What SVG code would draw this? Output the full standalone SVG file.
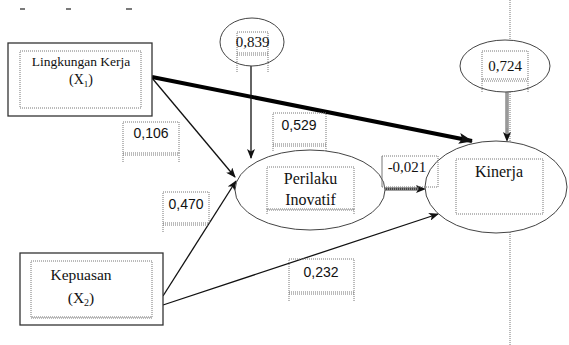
<svg xmlns="http://www.w3.org/2000/svg" width="569" height="345" viewBox="0 0 569 345">
<style>
.box{fill:#fff;stroke:#333;stroke-width:1.3}
.dot{fill:none;stroke:#777;stroke-width:1;stroke-dasharray:1 1}
.ell{fill:#fff;stroke:#444;stroke-width:1}
.ser{fill:#111;text-anchor:middle}
.san{fill:#111;text-anchor:middle;font-size:14px}
.ln{stroke:#111;stroke-width:1.3;fill:none}
</style>
<defs>
<marker id="ah" markerWidth="10" markerHeight="8" refX="9" refY="4" orient="auto" markerUnits="userSpaceOnUse">
<path d="M0,0 L10,4 L0,8 L2.5,4 Z" fill="#111"/>
</marker>
<marker id="ahb" markerWidth="14" markerHeight="11" refX="13" refY="5.5" orient="auto" markerUnits="userSpaceOnUse">
<path d="M0,0 L14,5.5 L0,11 L3,5.5 Z" fill="#111"/>
</marker>
</defs>
<rect width="569" height="345" fill="#fff"/>
<g id="marks" stroke="#222" stroke-width="1.2">
<line x1="20" y1="9" x2="25" y2="9"/>
<line x1="66" y1="9" x2="71" y2="9"/>
<line x1="126" y1="9" x2="132" y2="9"/>
</g>
<line x1="510" y1="0" x2="510" y2="345" class="dot" stroke="#999"/>
<g id="connectors">
<line class="ln" x1="152" y1="78" x2="235" y2="177" marker-end="url(#ah)"/>
<line class="ln" x1="163" y1="296" x2="236" y2="181" marker-end="url(#ah)"/>
<line class="ln" x1="163" y1="305" x2="438" y2="214" marker-end="url(#ah)"/>
<line x1="152" y1="77" x2="472" y2="141" stroke="#000" stroke-width="4" marker-end="url(#ahb)"/>
<line class="ln" x1="251" y1="66" x2="251" y2="158" marker-end="url(#ah)"/>
<line x1="507" y1="92" x2="507" y2="135" stroke="#555" stroke-width="3"/>
<line x1="507" y1="92" x2="507" y2="135" stroke="#ddd" stroke-width="1"/>
<line x1="507" y1="128" x2="507" y2="141" stroke="#111" stroke-width="0.1" marker-end="url(#ah)"/>
<line x1="385" y1="189" x2="418" y2="189" stroke="#444" stroke-width="3"/>
<line x1="385" y1="189" x2="418" y2="189" stroke="#ccc" stroke-width="1" stroke-dasharray="1 1"/>
<line x1="415" y1="189" x2="425" y2="189" stroke="#111" stroke-width="0.1" marker-end="url(#ah)"/>
</g>
<g id="lingkungan">
<rect class="box" x="8" y="43" width="144" height="73"/>
<rect class="dot" x="20" y="51" width="121" height="57"/>
<text class="ser" font-family="Liberation Serif" x="81" y="66" font-size="13.5">Lingkungan Kerja</text>
<text class="ser" font-family="Liberation Serif" x="81" y="84" font-size="14">(X<tspan font-size="9" dy="3">1</tspan><tspan dy="-3">)</tspan></text>
</g>
<g id="kepuasan">
<rect class="box" x="20" y="253" width="143" height="72"/>
<rect class="dot" x="31" y="261" width="121" height="56"/>
<line class="dot" x1="31" y1="318" x2="152" y2="318"/>
<text class="ser" font-family="Liberation Serif" x="81" y="280" font-size="15.5">Kepuasan</text>
<text class="ser" font-family="Liberation Serif" x="81" y="303" font-size="15.5">(X<tspan font-size="10" dy="3">2</tspan><tspan dy="-3">)</tspan></text>
</g>
<g id="e839">
<ellipse class="ell" cx="252" cy="42" rx="32" ry="24"/>
<rect class="dot" x="237" y="32" width="31" height="21"/>
<line class="dot" x1="237" y1="55" x2="268" y2="55"/>
<line class="dot" x1="237" y1="53" x2="237" y2="72"/>
<line class="dot" x1="268" y1="53" x2="268" y2="72"/>
<text class="ser" font-family="Liberation Serif" x="252.5" y="47" font-size="15">0,839</text>
</g>
<g id="e724">
<ellipse class="ell" cx="505" cy="66" rx="45" ry="26"/>
<rect class="dot" x="482" y="51" width="46" height="28"/>
<line class="dot" x1="482" y1="81" x2="528" y2="81"/>
<line class="dot" x1="482" y1="79" x2="482" y2="93"/>
<line class="dot" x1="528" y1="79" x2="528" y2="93"/>
<text class="ser" font-family="Liberation Serif" x="505" y="71" font-size="15">0,724</text>
</g>
<g id="perilaku">
<ellipse class="ell" cx="310" cy="190" rx="75" ry="40"/>
<rect class="dot" x="267" y="167" width="87" height="42"/>
<line class="dot" x1="267" y1="210" x2="354" y2="210"/>
<line class="dot" x1="267" y1="209" x2="267" y2="215"/>
<line class="dot" x1="354" y1="209" x2="354" y2="215"/>
<text class="ser" font-family="Liberation Serif" x="310.5" y="184" font-size="16">Perilaku</text>
<text class="ser" font-family="Liberation Serif" x="310.5" y="205" font-size="16">Inovatif</text>
</g>
<g id="kinerja">
<ellipse class="ell" cx="496" cy="187" rx="71" ry="46"/>
<rect class="dot" x="456" y="159" width="87" height="55"/>
<text class="ser" font-family="Liberation Serif" x="499" y="177" font-size="16">Kinerja</text>
</g>
<g id="labels">
<rect class="dot" x="123" y="122" width="56" height="31"/>
<line class="dot" x1="123" y1="155" x2="179" y2="155"/>
<line class="dot" x1="123" y1="153" x2="123" y2="163"/>
<line class="dot" x1="179" y1="153" x2="179" y2="163"/>
<text class="san" font-family="Liberation Sans" x="151" y="138">0,106</text>
<rect class="dot" x="163" y="192" width="46" height="31"/>
<line class="dot" x1="163" y1="225" x2="209" y2="225"/>
<line class="dot" x1="163" y1="223" x2="163" y2="233"/>
<text class="san" font-family="Liberation Sans" x="186" y="209">0,470</text>
<rect class="dot" x="273" y="113" width="53" height="31"/>
<line class="dot" x1="273" y1="146" x2="326" y2="146"/>
<line class="dot" x1="273" y1="144" x2="273" y2="151"/>
<line class="dot" x1="326" y1="144" x2="326" y2="151"/>
<text class="san" font-family="Liberation Sans" x="299" y="130">0,529</text>
<rect class="dot" x="382" y="156" width="56" height="31"/>
<line class="dot" x1="382" y1="156" x2="382" y2="187"/>
<text class="ser" font-family="Liberation Serif" x="407" y="172" font-size="15">-0,021</text>
<rect class="dot" x="289" y="259" width="65" height="33"/>
<line class="dot" x1="289" y1="294" x2="354" y2="294"/>
<line class="dot" x1="289" y1="292" x2="289" y2="302"/>
<line class="dot" x1="354" y1="292" x2="354" y2="302"/>
<text class="san" font-family="Liberation Sans" x="321" y="277">0,232</text>
</g>
</svg>
